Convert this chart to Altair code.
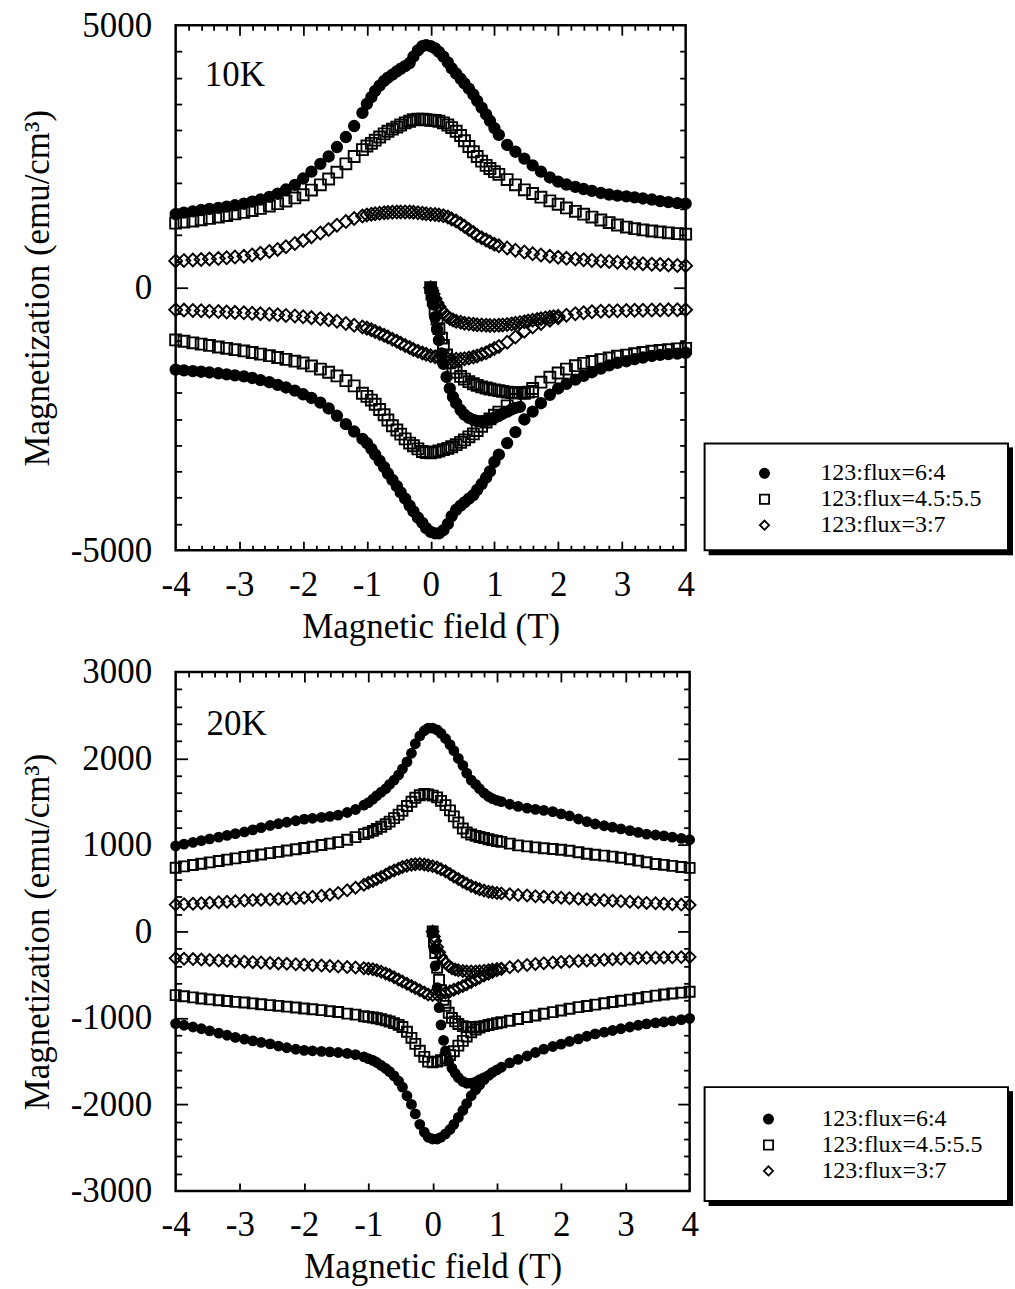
import altair as alt
import pandas as pd

FONT = "Liberation Serif"
SAMPLES = ["123:flux=6:4", "123:flux=4.5:5.5", "123:flux=3:7"]
SHAPES = ["circle", "square", "diamond"]
FILLS = ["black", "transparent", "transparent"]
STROKES = ["black", "black", "black"]

# field values of the loop branches (T), listed from +4 T down to -4 T
F = [4.0, 3.87, 3.73, 3.6, 3.47, 3.33, 3.2, 3.07, 2.93, 2.8, 2.67, 2.53, 2.4, 2.27, 2.13, 2.0, 1.87, 1.73, 1.6, 1.47, 1.33, 1.2, 1.07,
     1.0, 0.93, 0.87, 0.8, 0.73, 0.67, 0.6, 0.53, 0.47, 0.4, 0.33, 0.27, 0.2, 0.13, 0.07, 0.0,
     -0.07, -0.13, -0.2, -0.27, -0.33, -0.4, -0.47, -0.53, -0.6, -0.67, -0.73, -0.8, -0.87, -0.93, -1.0,
     -1.07, -1.2, -1.33, -1.47, -1.6, -1.73, -1.87, -2.0, -2.13, -2.27, -2.4, -2.53, -2.67, -2.8, -2.93, -3.07, -3.2, -3.33, -3.47, -3.6, -3.73, -3.87, -4.0]
# field values of the virgin curves (T)
VF = [0.0, 0.02, 0.04, 0.07, 0.1, 0.13, 0.17, 0.2, 0.25, 0.3, 0.35, 0.4, 0.47, 0.53, 0.6, 0.67, 0.73, 0.8, 0.87, 0.93,
      1.0, 1.07, 1.13, 1.2, 1.27, 1.33, 1.4, 1.47, 1.53, 1.6, 1.67, 1.73, 1.8, 1.87, 1.93, 2.0]

# ---------------- 10 K (emu/cm3) ----------------
T64_UP = [1600, 1610, 1630, 1650, 1680, 1700, 1720, 1740, 1755, 1775, 1805, 1845, 1880, 1920, 1965, 2020, 2100, 2210, 2330, 2460, 2590, 2720, 2910,
          3040, 3180, 3300, 3430, 3560, 3680, 3790, 3890, 3980, 4080, 4180, 4290, 4400, 4490, 4560, 4600,
          4620, 4600, 4520, 4400, 4280, 4220, 4170, 4120, 4060, 4000, 3940, 3850, 3750, 3630, 3500,
          3330, 3080, 2870, 2680, 2500, 2360, 2210, 2080, 1960, 1870, 1790, 1730, 1680, 1640, 1600, 1570, 1545, 1520, 1500, 1480, 1455, 1430, 1400]
T64_LO = [-1240, -1255, -1265, -1280, -1300, -1330, -1360, -1400, -1430, -1480, -1540, -1610, -1680, -1750, -1830, -1920, -2040, -2200, -2360, -2510, -2750, -2960, -3180,
          -3320, -3500, -3620, -3740, -3850, -3950, -4020, -4090, -4150, -4230, -4350, -4500, -4620, -4680, -4680, -4650,
          -4580, -4480, -4380, -4260, -4150, -4020, -3900, -3780, -3660, -3540, -3420, -3300, -3180, -3070, -2960,
          -2880, -2740, -2600, -2440, -2300, -2190, -2100, -2030, -1960, -1900, -1850, -1800, -1760, -1720, -1690, -1670, -1650, -1630, -1615, -1600, -1590, -1575, -1560]
T64_VI = [0, -150, -320, -560, -790, -1000, -1250, -1450, -1700, -1920, -2080, -2200, -2330, -2420, -2480, -2520, -2540, -2545, -2530, -2510,
          -2480, -2440, -2400, -2360, -2320, -2290, -2270]

T45_UP = [1020, 1030, 1045, 1062, 1080, 1100, 1125, 1155, 1195, 1240, 1290, 1345, 1400, 1455, 1520, 1590, 1655, 1725, 1795, 1865, 1960, 2060, 2160,
          2210, 2270, 2330, 2410, 2500, 2590, 2690, 2800, 2900, 2980, 3050, 3100, 3140, 3170, 3185, 3190,
          3200, 3210, 3210, 3200, 3170, 3140, 3100, 3060, 3020, 2980, 2930, 2870, 2810, 2750, 2700,
          2630, 2500, 2360, 2200, 2070, 1960, 1860, 1770, 1710, 1650, 1600, 1555, 1510, 1470, 1435, 1405, 1375, 1345, 1320, 1295, 1270, 1250, 1230]
T45_LO = [-1155, -1165, -1180, -1195, -1210, -1235, -1258, -1283, -1305, -1338, -1370, -1405, -1440, -1485, -1550, -1625, -1705, -1800, -1920, -2010, -2130, -2250, -2370,
          -2430, -2500, -2560, -2640, -2720, -2785, -2840, -2900, -2945, -2990, -3030, -3060, -3085, -3110, -3130, -3145,
          -3140, -3120, -3070, -3010, -2960, -2880, -2790, -2710, -2630, -2520, -2420, -2320, -2220, -2140, -2070,
          -2010, -1870, -1770, -1680, -1610, -1550, -1490, -1435, -1400, -1365, -1330, -1295, -1265, -1235, -1205, -1180, -1155, -1130, -1100, -1075, -1050, -1020, -995]
T45_VI = [0, -120, -230, -420, -600, -780, -960, -1100, -1280, -1430, -1530, -1610, -1690, -1740, -1790, -1830, -1860, -1890, -1910, -1930,
          -1945, -1960, -1975, -1990, -2000, -2005, -2005, -2000, -1990, -1975]

T37_UP = [420, 425, 432, 440, 448, 457, 466, 476, 486, 497, 508, 520, 533, 547, 562, 580, 600, 622, 648, 680, 715, 755, 800,
          830, 870, 910, 950, 995, 1050, 1110, 1170, 1220, 1270, 1310, 1345, 1370, 1385, 1395, 1400,
          1410, 1420, 1428, 1435, 1440, 1443, 1443, 1440, 1437, 1433, 1428, 1420, 1410, 1400, 1385,
          1365, 1320, 1260, 1190, 1110, 1040, 970, 900, 840, 780, 730, 690, 655, 625, 600, 583, 570, 558, 548, 538, 528, 518, 510]
T37_LO = [-420, -421, -422, -424, -426, -428, -431, -435, -438, -442, -448, -458, -475, -495, -525, -570, -620, -680, -750, -830, -940, -1040, -1120,
          -1160, -1200, -1240, -1270, -1300, -1320, -1340, -1355, -1362, -1365, -1365, -1360, -1350, -1335, -1315, -1295,
          -1270, -1245, -1210, -1175, -1140, -1100, -1060, -1020, -980, -940, -905, -870, -835, -800, -770,
          -750, -715, -680, -640, -610, -590, -570, -555, -540, -528, -517, -507, -497, -488, -479, -470, -462, -455, -448, -441, -434, -427, -420]
T37_VI = [0, -60, -120, -210, -290, -360, -430, -480, -540, -585, -615, -640, -660, -675, -688, -698, -706, -712, -716, -718,
          -718, -715, -710, -700, -690, -678, -665, -650, -636, -620, -605, -590, -577, -565, -553, -545]

# ---------------- 20 K (emu/cm3) ----------------
B64_UP = [1060, 1075, 1090, 1105, 1115, 1125, 1145, 1165, 1185, 1205, 1222, 1242, 1270, 1300, 1335, 1360, 1385, 1400, 1412, 1425, 1445, 1470, 1500,
          1515, 1535, 1560, 1600, 1650, 1700, 1750, 1830, 1920, 2000, 2090, 2160, 2230, 2290, 2330, 2350,
          2350, 2320, 2260, 2170, 2060, 1960, 1880, 1810, 1750, 1700, 1650, 1610, 1570, 1530, 1490,
          1460, 1410, 1375, 1345, 1330, 1318, 1308, 1298, 1280, 1262, 1245, 1225, 1200, 1175, 1150, 1130, 1110, 1090, 1070, 1050, 1030, 1010, 990]
B64_LO = [-1005, -1020, -1035, -1047, -1058, -1068, -1085, -1105, -1125, -1145, -1165, -1185, -1212, -1242, -1272, -1302, -1330, -1360, -1400, -1440, -1480, -1520, -1570,
          -1600, -1630, -1665, -1715, -1775, -1830, -1900, -1990, -2070, -2150, -2230, -2290, -2340, -2380, -2400, -2400,
          -2380, -2320, -2230, -2110, -2000, -1900, -1800, -1730, -1670, -1620, -1585, -1550, -1515, -1490, -1470,
          -1450, -1425, -1410, -1400, -1392, -1386, -1380, -1375, -1362, -1345, -1325, -1300, -1282, -1265, -1245, -1225, -1200, -1175, -1150, -1125, -1105, -1085, -1065]
B64_VI = [0, -200, -400, -650, -880, -1080, -1260, -1380, -1500, -1580, -1640, -1690, -1735, -1755, -1755, -1740, -1715, -1690]

B45_UP = [735, 745, 758, 770, 780, 800, 818, 835, 852, 865, 876, 886, 898, 915, 933, 945, 953, 962, 972, 983, 995, 1015, 1035,
          1045, 1055, 1066, 1080, 1092, 1105, 1120, 1145, 1190, 1260, 1330, 1400, 1460, 1510, 1550, 1570,
          1585, 1590, 1575, 1545, 1500, 1450, 1395, 1350, 1310, 1270, 1240, 1210, 1185, 1162, 1143,
          1125, 1090, 1060, 1033, 1015, 1000, 980, 965, 950, 935, 920, 905, 890, 875, 860, 845, 830, 815, 798, 782, 768, 752, 736]
B45_LO = [-698, -708, -718, -729, -742, -756, -772, -788, -802, -816, -830, -846, -862, -875, -894, -914, -933, -952, -972, -990, -1012, -1032, -1050,
          -1062, -1072, -1082, -1095, -1112, -1135, -1165, -1215, -1265, -1320, -1385, -1430, -1465, -1490, -1505, -1512,
          -1505, -1450, -1380, -1300, -1230, -1160, -1105, -1080, -1060, -1042, -1028, -1015, -1003, -995, -988,
          -980, -962, -950, -932, -922, -910, -900, -891, -880, -870, -860, -852, -842, -832, -822, -814, -805, -795, -786, -775, -762, -750, -736]
B45_VI = [0, -120, -250, -420, -560, -680, -790, -860, -940, -1000, -1040, -1070, -1095, -1105, -1108, -1105, -1100]

B37_UP = [305, 310, 315, 320, 325, 330, 336, 342, 348, 354, 360, 366, 372, 378, 384, 390, 396, 402, 408, 415, 422, 430, 440,
          445, 452, 460, 472, 488, 505, 525, 550, 575, 605, 635, 665, 695, 720, 740, 755,
          765, 775, 780, 778, 772, 760, 745, 725, 705, 680, 655, 630, 605, 583, 562,
          540, 505, 475, 445, 425, 412, 400, 390, 385, 380, 375, 370, 366, 362, 357, 350, 344, 338, 332, 326, 320, 315, 310]
B37_LO = [-295, -297, -299, -301, -303, -305, -308, -312, -317, -322, -327, -332, -337, -342, -347, -353, -360, -367, -376, -387, -400, -415, -435,
          -450, -468, -488, -510, -535, -560, -585, -610, -632, -655, -675, -692, -708, -722, -732, -736,
          -728, -705, -680, -655, -630, -605, -580, -555, -530, -505, -485, -465, -448, -437, -430,
          -425, -418, -412, -406, -400, -395, -390, -386, -380, -375, -370, -365, -360, -355, -350, -345, -340, -335, -330, -325, -320, -315, -310]
B37_VI = [0, -60, -110, -180, -240, -290, -335, -365, -400, -425, -440, -450, -458, -462, -464, -463, -460, -455, -448, -441, -435, -430]

TEMP_LABELS = ["10K", "20K"]
TEMP_POS = [(-3.07, 4050), (-3.05, 2400)]

# tick positions (axis decoration)
X_LABELS = [-4, -3, -2, -1, 0, 1, 2, 3, 4]
X_MAJOR = [-3, -2, -1, 0, 1, 2, 3]
X_MINOR = [-3.8, -3.6, -3.4, -3.2, -2.8, -2.6, -2.4, -2.2, -1.8, -1.6, -1.4, -1.2, -0.8, -0.6, -0.4, -0.2,
           0.2, 0.4, 0.6, 0.8, 1.2, 1.4, 1.6, 1.8, 2.2, 2.4, 2.6, 2.8, 3.2, 3.4, 3.6, 3.8]
TOP_Y_LABELS = [-5000, 0, 5000]
TOP_Y_MAJOR = [0]
TOP_Y_MINOR = [-4500, -4000, -3500, -3000, -2500, -2000, -1500, -1000, -500, 500, 1000, 1500, 2000, 2500, 3000, 3500, 4000, 4500]
BOT_Y_LABELS = [-3000, -2000, -1000, 0, 1000, 2000, 3000]
BOT_Y_MAJOR = [-2000, -1000, 0, 1000, 2000]
BOT_Y_MINOR = [-2800, -2600, -2400, -2200, -1800, -1600, -1400, -1200, -800, -600, -400, -200,
               200, 400, 600, 800, 1200, 1400, 1600, 1800, 2200, 2400, 2600, 2800]


def build(series):
    recs = []
    for name, up, lo, vi in series:
        for branch, xs, ms in (("up", F, up), ("down", F, lo), ("virgin", VF, vi)):
            if branch != "virgin" and len(ms) != len(xs):
                raise ValueError(f"{name} {branch}: {len(ms)} values")
            for x, m in zip(xs, ms):
                recs.append({"f": x, "m": m, "sample": name, "branch": branch})
    return pd.DataFrame(recs)


df_top = build([(SAMPLES[0], T64_UP, T64_LO, T64_VI),
                (SAMPLES[1], T45_UP, T45_LO, T45_VI),
                (SAMPLES[2], T37_UP, T37_LO, T37_VI)])
df_bot = build([(SAMPLES[0], B64_UP, B64_LO, B64_VI),
                (SAMPLES[1], B45_UP, B45_LO, B45_VI),
                (SAMPLES[2], B37_UP, B37_LO, B37_VI)])


def tick_axis(orient, values, size):
    return alt.Axis(orient=orient, values=values, labels=False, domain=False, grid=False, ticks=True,
                    tickSize=size, tickWidth=1.8, tickColor="black", offset=-size, title=None)


def panel(df, ydom, ylabels, ymaj, ymin, xbot_minor, sizes, temp, tpos, lx, ly, loff, box,
          width, height, lab_pad_y, title_pad_y):
    xs = alt.Scale(domain=[-4, 4], nice=False, zero=False)
    ys = alt.Scale(domain=ydom, nice=False, zero=False)
    dummy = pd.DataFrame({"f": [0.0], "m": [0.0]})
    one = pd.DataFrame({"a": [0]})

    legend = alt.Legend(orient="none", legendX=lx, legendY=ly, title=None, zindex=5,
                        labelFont=FONT, labelFontSize=24, labelColor="black", labelLimit=400,
                        symbolSize=85, symbolStrokeColor="black", symbolStrokeWidth=1.8,
                        labelOffset=loff, rowPadding=2, padding=0)

    bx0, by0, bx1, by1 = box
    shadow_b = alt.Chart(one).mark_rect(color="black").encode(
        x=alt.value(bx0 + 4), x2=alt.value(bx1 + 5), y=alt.value(by1), y2=alt.value(by1 + 5))
    shadow_r = alt.Chart(one).mark_rect(color="black").encode(
        x=alt.value(bx1), x2=alt.value(bx1 + 5), y=alt.value(by0 + 4), y2=alt.value(by1 + 5))
    frame = alt.Chart(one).mark_rect(fillOpacity=0, stroke="black", strokeWidth=2).encode(
        x=alt.value(bx0), x2=alt.value(bx1), y=alt.value(by0), y2=alt.value(by1))

    x_lab_axis = alt.Axis(orient="bottom", values=X_LABELS, ticks=False, domain=False, grid=False,
                          labelFont=FONT, labelFontSize=35, labelColor="black", labelPadding=17,
                          labelFlush=False, labelOverlap=False, labelExpr="'' + datum.value",
                          title="Magnetic field (T)", titleFont=FONT, titleFontSize=35,
                          titleFontWeight="normal", titleColor="black", titlePadding=7)
    y_lab_axis = alt.Axis(orient="left", values=ylabels, ticks=False, domain=False, grid=False,
                          labelFont=FONT, labelFontSize=35, labelColor="black", labelPadding=lab_pad_y,
                          labelOverlap=False, labelExpr="'' + datum.value",
                          title="Magnetization (emu/cm³)", titleFont=FONT, titleFontSize=35,
                          titleFontWeight="normal", titleColor="black", titlePadding=title_pad_y)

    shape_enc = alt.Shape("sample:N", scale=alt.Scale(domain=SAMPLES, range=SHAPES), legend=legend)
    fill_enc = alt.Fill("sample:N", scale=alt.Scale(domain=SAMPLES, range=FILLS), legend=legend)
    stroke_enc = alt.Stroke("sample:N", scale=alt.Scale(domain=SAMPLES, range=STROKES), legend=legend)

    point_layers = []
    for i, name in enumerate(SAMPLES):
        sub = df[df["sample"] == name]
        point_layers.append(
            alt.Chart(sub).mark_point(opacity=1, strokeWidth=1.9, size=sizes[i]).encode(
                x=alt.X("f:Q", scale=xs, axis=x_lab_axis if i == 0 else None),
                y=alt.Y("m:Q", scale=ys, axis=y_lab_axis if i == 0 else None),
                shape=shape_enc,
                fill=fill_enc,
                stroke=stroke_enc,
            ))

    def ticks_layer(xaxis, yaxis):
        return alt.Chart(dummy).mark_point(opacity=0).encode(
            x=alt.X("f:Q", scale=xs, axis=xaxis), y=alt.Y("m:Q", scale=ys, axis=yaxis))

    l2 = ticks_layer(tick_axis("bottom", X_MAJOR, 9 if xbot_minor else 8), tick_axis("left", ymaj, 12))
    l3 = ticks_layer(tick_axis("bottom", X_MINOR, 5) if xbot_minor else None, tick_axis("left", ymin, 6))
    l4 = ticks_layer(tick_axis("top", X_MAJOR, 10), tick_axis("right", ymaj, 12))
    l5 = ticks_layer(tick_axis("top", X_MINOR, 5), tick_axis("right", ymin, 6))

    txt = alt.Chart(pd.DataFrame({"f": [tpos[0]], "m": [tpos[1]], "t": [temp]})).mark_text(
        font=FONT, fontSize=35, align="center", baseline="middle", color="black").encode(
        x=alt.X("f:Q", scale=xs, axis=None), y=alt.Y("m:Q", scale=ys, axis=None), text="t:N")

    return alt.layer(shadow_b, shadow_r, frame, *point_layers, l2, l3, l4, l5, txt).resolve_scale(
        x="independent", y="independent").resolve_axis(
        x="independent", y="independent").properties(width=width, height=height)


top = panel(df_top, [-5000, 5000], TOP_Y_LABELS, TOP_Y_MAJOR, TOP_Y_MINOR, True, [110, 120, 165],
            TEMP_LABELS[0], TEMP_POS[0], 578, 437, 44, (530, 419, 834, 526), 511, 526, 24, 15)
bottom = panel(df_bot, [-3000, 3000], BOT_Y_LABELS, BOT_Y_MAJOR, BOT_Y_MINOR, False, [80, 100, 140],
               TEMP_LABELS[1], TEMP_POS[1], 582, 436, 41, (530, 416, 834, 530), 515, 520, 24, 15)

chart = alt.vconcat(top, bottom, spacing=7).resolve_scale(
    x="independent", y="independent", shape="independent", fill="independent", stroke="independent"
).resolve_legend(shape="independent", fill="independent", stroke="independent").properties(
    padding={"left": 19, "top": 5, "right": 0, "bottom": 0}
).configure_view(stroke="black", strokeWidth=2.5)

chart.save("out.html", embed_options={"renderer": "svg", "actions": False})
